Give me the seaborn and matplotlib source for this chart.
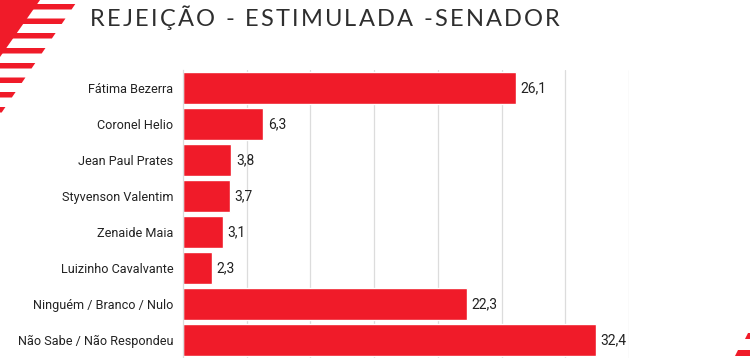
import pandas as pd
import matplotlib.pyplot as plt
import seaborn as sns
from matplotlib.patches import Polygon
from matplotlib.font_manager import FontProperties

# Data
candidatos = ["Fátima Bezerra", "Coronel Helio", "Jean Paul Prates", "Styvenson Valentim",
              "Zenaide Maia", "Luizinho Cavalvante", "Ninguém / Branco / Nulo",
              "Não Sabe / Não Respondeu"]
rejeicao = [26.1, 6.3, 3.8, 3.7, 3.1, 2.3, 22.3, 32.4]
titulo = "REJEIÇÃO - ESTIMULADA -SENADOR"

data = pd.DataFrame({"Candidato": candidatos, "Rejeicao": rejeicao})

sns.set_style("white")
plt.rcParams['font.family'] = ['Roboto', 'DejaVu Sans']

red = "#F01B29"

fig = plt.figure(figsize=(7.5, 3.58), dpi=100)
ax = fig.add_axes([183 / 750, 0, (629 - 183) / 750, 1 - 70 / 358])

sns.barplot(x="Rejeicao", y="Candidato", data=data, color=red, saturation=1,
            width=0.88, ax=ax)

ax.set_xlim(0, 35)
ax.set_ylim(7.5, -0.5)
ax.set_xticks(range(5, 36, 5))
ax.xaxis.grid(True, color="#dcdcdc", linewidth=0.9)
ax.set_axisbelow(True)
ax.set_xticklabels([])
ax.tick_params(axis="x", length=0)
ax.tick_params(axis="y", length=0, pad=7, labelsize=9.1, labelcolor="#222222")
ax.set_xlabel("")
ax.set_ylabel("")
for s in ["top", "right", "bottom"]:
    ax.spines[s].set_visible(False)
ax.spines["left"].set_color("#dcdcdc")
ax.spines["left"].set_linewidth(0.9)

# Value labels (decimal comma)
for i, v in enumerate(rejeicao):
    ax.text(v + 0.35, i, f"{v:.1f}".replace(".", ","), va="center", ha="left",
            fontsize=10, color="#222222")

# Title with wide letter spacing (one text per character)
prop = FontProperties(family="Lato", weight="normal", size=17)
renderer = fig.canvas.get_renderer()

def text_w(s):
    w, _, _ = renderer.get_text_width_height_descent(s + "|", prop, ismath=False)
    w0, _, _ = renderer.get_text_width_height_descent("|", prop, ismath=False)
    return w - w0

x_start, x_end = 90, 560
natural = text_w(titulo)
tracking = (x_end - x_start - natural) / (len(titulo) - 1)
for i, ch in enumerate(titulo):
    if ch == " ":
        continue
    x = x_start + text_w(titulo[:i]) + i * tracking
    fig.text(x / 750, 1 - 19 / 358, ch, fontproperties=prop, color="#2e2e2e",
             va="center", ha="left")

# Decorative stripes, top-left
def diag(y):
    return 78 - y * 78 / 115

H = 358
fig.patches.append(Polygon([(0, H), (40, H), (0, H - 57)], closed=True,
                           transform=None, facecolor=red, edgecolor="none"))
for y0 in [4, 18.5, 33, 48, 63, 77.5, 92, 107]:
    y1 = y0 + 5.5
    pts = [(0, H - y0), (diag(y0), H - y0), (diag(y1), H - y1), (0, H - y1)]
    fig.patches.append(Polygon(pts, closed=True, transform=None,
                               facecolor=red, edgecolor="none"))

# Decorative stripes, bottom-right
for (xa, ya) in [(745, 333), (735, 350)]:
    pts = [(xa + 3, H - ya), (750, H - ya), (750, H - ya - 5.5), (xa, H - ya - 5.5)]
    fig.patches.append(Polygon(pts, closed=True, transform=None,
                               facecolor=red, edgecolor="none"))

fig.savefig("out.png", dpi=100)
